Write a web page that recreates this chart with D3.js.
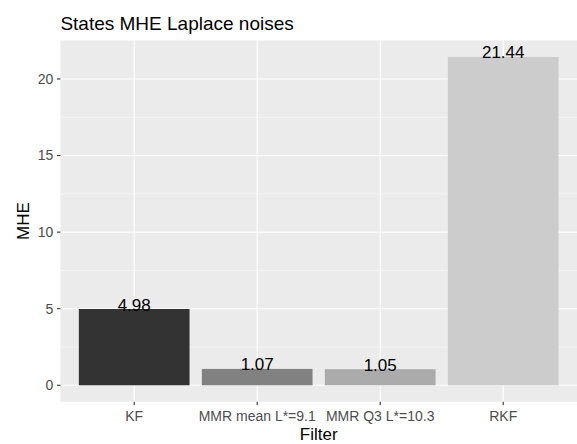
<!DOCTYPE html>
<html><head><meta charset="utf-8">
<script src="https://cdn.jsdelivr.net/npm/d3@7"></script>
<style>body{margin:0;background:#fff}svg{display:block}text{font-family:"Liberation Sans",Arial,sans-serif}</style>
</head><body>
<svg id="c" width="577" height="444"></svg>
<script>
const categories = ["KF", "MMR mean L*=9.1", "MMR Q3 L*=10.3", "RKF"];
const values = [4.98, 1.07, 1.05, 21.44];
const labels = ["4.98", "1.07", "1.05", "21.44"];
const fills = ["#333333", "#818181", "#ababab", "#cccccc"];
const yTicks = [0, 5, 10, 15, 20];
const yMinor = [2.5, 7.5, 12.5, 17.5];

const svg = d3.select("#c");
const L = 60.4, R = 577, T = 40.5, B = 401.7;
// ggplot discrete expansion: 0.6 units each side -> point scale with padding 0.6
const xp = d3.scalePoint().domain(categories).range([L, R]).padding(0.6);
const xc = c => xp(c);
const bw = 0.9 * xp.step();
const y = d3.scaleLinear().domain([-1.072, 22.512]).range([B, T]);

svg.append("rect").attr("x", L).attr("y", T).attr("width", R - L).attr("height", B - T).attr("fill", "#ebebeb");
svg.selectAll(".gmin").data(yMinor).enter().append("line")
  .attr("x1", L).attr("x2", R).attr("y1", d => y(d)).attr("y2", d => y(d))
  .attr("stroke", "#fff").attr("stroke-width", 0.55);
svg.selectAll(".gmaj").data(yTicks).enter().append("line")
  .attr("x1", L).attr("x2", R).attr("y1", d => y(d)).attr("y2", d => y(d))
  .attr("stroke", "#fff").attr("stroke-width", 1.1);
svg.selectAll(".gx").data(categories).enter().append("line")
  .attr("x1", d => xc(d)).attr("x2", d => xc(d)).attr("y1", T).attr("y2", B)
  .attr("stroke", "#fff").attr("stroke-width", 1.1);

svg.selectAll(".bar").data(categories).enter().append("rect")
  .attr("x", d => xc(d) - bw / 2).attr("width", bw)
  .attr("y", (d, i) => y(values[i])).attr("height", (d, i) => y(0) - y(values[i]))
  .attr("fill", (d, i) => fills[i]);

svg.selectAll(".lab").data(categories).enter().append("text")
  .attr("x", d => xc(d)).attr("y", (d, i) => y(values[i]) + 1.5)
  .attr("text-anchor", "middle").attr("font-size", 17).attr("fill", "#000")
  .text((d, i) => labels[i]);

// y axis
svg.selectAll(".yt").data(yTicks).enter().append("line")
  .attr("x1", L - 3.5).attr("x2", L).attr("y1", d => y(d)).attr("y2", d => y(d))
  .attr("stroke", "#333").attr("stroke-width", 1.1);
svg.selectAll(".yl").data(yTicks).enter().append("text")
  .attr("x", L - 7).attr("y", d => y(d)).attr("dy", "0.35em")
  .attr("text-anchor", "end").attr("font-size", 14).attr("fill", "#4d4d4d").text(d => d);
// x axis
svg.selectAll(".xt").data(categories).enter().append("line")
  .attr("x1", d => xc(d)).attr("x2", d => xc(d)).attr("y1", B).attr("y2", B + 3.5)
  .attr("stroke", "#333").attr("stroke-width", 1.1);
svg.selectAll(".xl").data(categories).enter().append("text")
  .attr("x", d => xc(d)).attr("y", 421)
  .attr("text-anchor", "middle").attr("font-size", 14).attr("fill", "#4d4d4d").text(d => d);

svg.append("text").attr("x", (L + R) / 2).attr("y", 439.5).attr("text-anchor", "middle")
  .attr("font-size", 17).attr("fill", "#000").text("Filter");
svg.append("text").attr("transform", `translate(29,${(T + B) / 2}) rotate(-90)`).attr("text-anchor", "middle")
  .attr("font-size", 17).attr("fill", "#000").text("MHE");
svg.append("text").attr("x", L).attr("y", 29.5).attr("font-size", 19).attr("fill", "#000")
  .text("States MHE Laplace noises");
</script>
</body></html>
